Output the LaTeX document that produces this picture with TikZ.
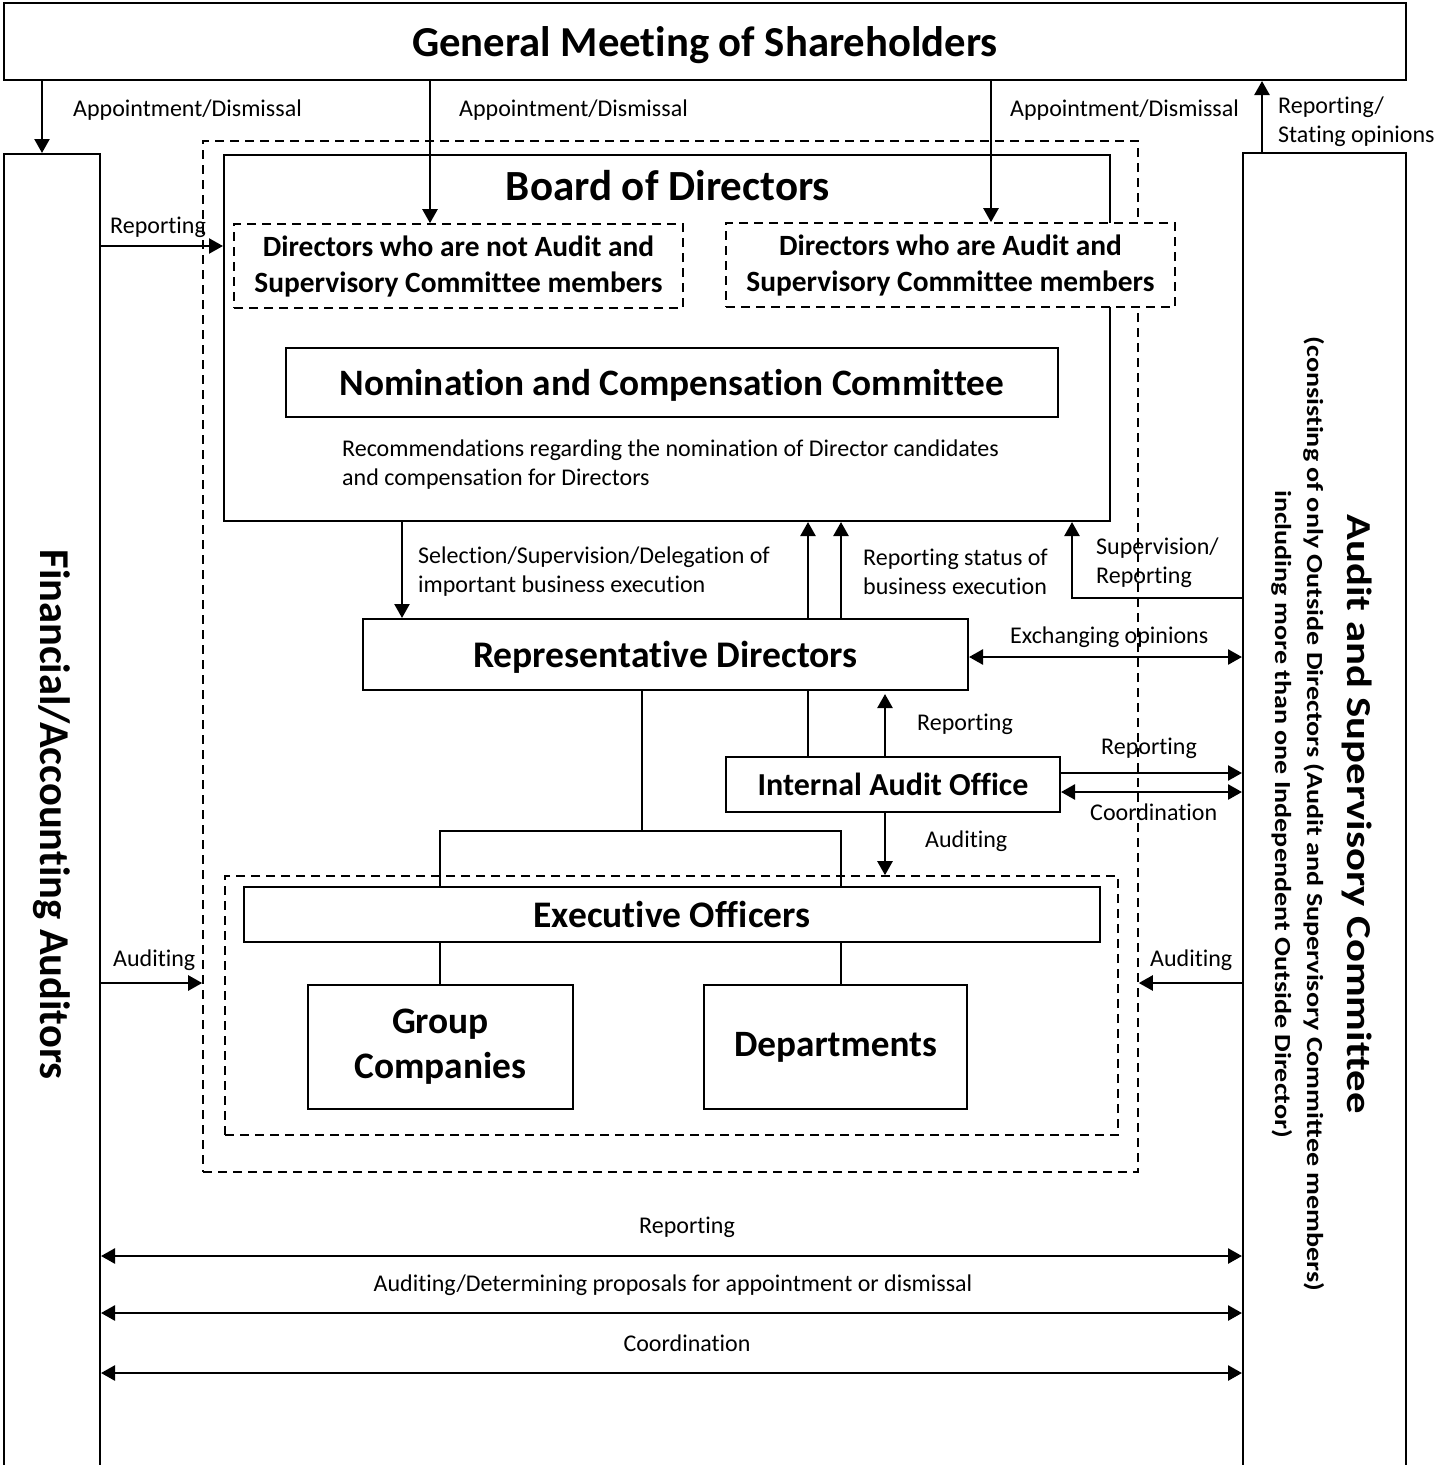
\documentclass[tikz,border=0pt]{standalone}
\usepackage{fontspec}
\setmainfont{Carlito}[Ligatures=NoCommon]
\usetikzlibrary{arrows.meta}
\begin{document}
\begin{tikzpicture}[x=1pt,y=-1pt,
  box/.style={draw, line width=2pt, fill=white, inner sep=0pt, align=center},
  dbox/.style={draw, line width=1.6pt, dash pattern=on 9pt off 6pt, inner sep=0pt, align=center},
  tipA/.tip={Triangle[length=14pt,width=15pt]},
  arr/.style={line width=2.4pt, -tipA},
  darr/.style={line width=2.6pt, tipA-tipA},
  conn/.style={line width=2pt},
  lbl/.style={font=\fontsize{24}{29}\selectfont, inner sep=0pt, align=left, anchor=west},
  clbl/.style={font=\fontsize{24}{29}\selectfont, inner sep=0pt, align=center}
]
\useasboundingbox (0,0) rectangle (1451,1465);
\clip (0,0) rectangle (1451,1465);

% containers
\node[dbox, minimum width=935, minimum height=1031] (gov) at (670.5,656.5) {};
\node[box, minimum width=886, minimum height=366] (board) at (667,338) {};
\node[inner sep=0pt, font=\bfseries\fontsize{43}{48}\selectfont] (boardT) at (668,186) {Board of Directors};
\node[dbox, fill=white, minimum width=449, minimum height=84, font=\bfseries\fontsize{29.4}{36}\selectfont] (dna) at (458.5,266) {Directors who are not Audit and\\Supervisory Committee members};
\node[dbox, fill=white, minimum width=449, minimum height=84, font=\bfseries\fontsize{29.4}{36}\selectfont] (da) at (950.5,265) {Directors who are Audit and\\Supervisory Committee members};
\node[box, minimum width=772, minimum height=69, text depth=0pt, font=\bfseries\fontsize{37.3}{44}\selectfont] (ncc) at (672,382.5) {Nomination and Compensation Committee};
\node[inner sep=0pt, anchor=west, align=left, font=\fontsize{24}{29}\selectfont] (rec) at (342,465) {Recommendations regarding the nomination of Director candidates\\and compensation for Directors};
\node[box, minimum width=605, minimum height=71, text depth=0pt, font=\bfseries\fontsize{37.6}{44}\selectfont] (rep) at (665.5,654.5) {Representative Directors};
\node[box, minimum width=334, minimum height=55, font=\bfseries\fontsize{32}{38}\selectfont] (iao) at (893,784.5) {Internal Audit Office};
\node[dbox, minimum width=893, minimum height=259] (execbox) at (671.5,1005.5) {};
\node[box, minimum width=856, minimum height=55, font=\bfseries\fontsize{37.5}{44}\selectfont] (exo) at (672,914.5) {Executive Officers};
\node[box, minimum width=265, minimum height=124, font=\bfseries\fontsize{37.4}{45}\selectfont] (grp) at (440.5,1047) {Group\\Companies};
\node[box, minimum width=263, minimum height=124, font=\bfseries\fontsize{37.2}{44}\selectfont] (dep) at (835.5,1047) {Departments};

\node[box, minimum width=1402, minimum height=77, text depth=0pt, font=\bfseries\fontsize{42.7}{50}\selectfont] (gms) at (705,41.5) {General Meeting of Shareholders};
\node[box, minimum width=96, minimum height=1321] (faa) at (52,814.5) {\rotatebox{-90}{\bfseries\fontsize{42.5}{48}\selectfont Financial/Accounting Auditors}};
\node[box, minimum width=163, minimum height=1322] (asc) at (1324.5,814) {\hbox{\kern-12pt\rotatebox{-90}{\scalebox{1.22}[1]{\bfseries\fontsize{23}{32}\selectfont\begin{tabular}{@{}c@{}}{\fontsize{35}{40}\selectfont Audit and Supervisory Committee}\\[8pt](consisting of only Outside Directors (Audit and Supervisory Committee members)\\including more than one Independent Outside Director)\end{tabular}}}}};

% coordinates
\coordinate (xA) at (42,0);
\coordinate (xB) at (430,0);
\coordinate (xC) at (991,0);
\coordinate (xD) at (1262,0);
\coordinate (yRep) at (0,246);
\coordinate (xSel) at (402,0);
\coordinate (xUp1) at (808,0);
\coordinate (xUp2) at (841,0);
\coordinate (xSup) at (1072,0);
\coordinate (ySup) at (0,598);
\coordinate (yEx) at (0,657);
\coordinate (xMid) at (642,0);
\coordinate (yBus) at (0,831);
\coordinate (xG) at (440,0);
\coordinate (xDp) at (841,0);
\coordinate (xIr) at (885,0);
\coordinate (yIr) at (0,773);
\coordinate (yIc) at (0,792);
\coordinate (yAud) at (0,983);
\coordinate (yB1) at (0,1256);
\coordinate (yB2) at (0,1313);
\coordinate (yB3) at (0,1373);

% connectors
\draw[arr] (xA |- gms.south) -- (xA |- faa.north);
\draw[arr] (xB |- gms.south) -- (xB |- dna.north);
\draw[arr] (xC |- gms.south) -- (xC |- da.north);
\draw[arr] (xD |- asc.north) -- (xD |- gms.south);
\draw[arr] (faa.east |- yRep) -- (board.west |- yRep);
\draw[arr] (xSel |- board.south) -- (xSel |- rep.north);
\draw[arr] (xUp1 |- rep.north) -- (xUp1 |- board.south);
\draw[arr] (xUp2 |- rep.north) -- (xUp2 |- board.south);
\draw[arr] (asc.west |- ySup) -| (xSup |- board.south);
\draw[darr] (rep.east |- yEx) -- (asc.west |- yEx);
\draw[conn] (xMid |- rep.south) -- (xMid |- yBus);
\draw[conn] (xG |- exo.north) -- (xG |- yBus) -- (xDp |- yBus) -- (xDp |- exo.north);
\draw[conn] (xUp1 |- rep.south) -- (xUp1 |- iao.north);
\draw[arr, shorten >=3pt] (xIr |- iao.north) -- (xIr |- rep.south);
\draw[arr] (iao.east |- yIr) -- (asc.west |- yIr);
\draw[darr] (iao.east |- yIc) -- (asc.west |- yIc);
\draw[arr] (xIr |- iao.south) -- (xIr |- execbox.north);
\draw[conn] (xG |- exo.south) -- (xG |- grp.north);
\draw[conn] (xDp |- exo.south) -- (xDp |- dep.north);
\draw[arr] (faa.east |- yAud) -- (gov.west |- yAud);
\draw[arr] (asc.west |- yAud) -- (gov.east |- yAud);
\draw[darr] (faa.east |- yB1) -- (asc.west |- yB1);
\draw[darr] (faa.east |- yB2) -- (asc.west |- yB2);
\draw[darr] (faa.east |- yB3) -- (asc.west |- yB3);

% labels
\node[lbl] (l1) at (73,110) {Appointment/Dismissal};
\node[lbl] (l2) at (459,110) {Appointment/Dismissal};
\node[lbl] (l3) at (1010,110) {Appointment/Dismissal};
\node[lbl] (l4) at (1278,122) {Reporting/\\Stating opinions};
\node[lbl] (l5) at (110,227) {Reporting};
\node[lbl] (l6) at (418,572) {Selection/Supervision/Delegation of\\important business execution};
\node[lbl] (l7) at (863,572) {Reporting status of\\business execution};
\node[lbl] (l8) at (1096,563) {Supervision/\\Reporting};
\node[lbl] (l9) at (1010,637) {Exchanging opinions};
\node[lbl] (l10) at (917,724) {Reporting};
\node[lbl] (l11) at (1101,748) {Reporting};
\node[lbl] (l12) at (1090,812) {Coordination};
\node[lbl] (l13) at (925,841) {Auditing};
\node[lbl] (l14) at (113,960) {Auditing};
\node[lbl] (l15) at (1150,960) {Auditing};
\node[clbl] (l16) at (687,1227) {Reporting};
\node[clbl] (l17) at (673,1285) {Auditing/Determining proposals for appointment or dismissal};
\node[clbl] (l18) at (687,1343) {Coordination};
\end{tikzpicture}
\end{document}
